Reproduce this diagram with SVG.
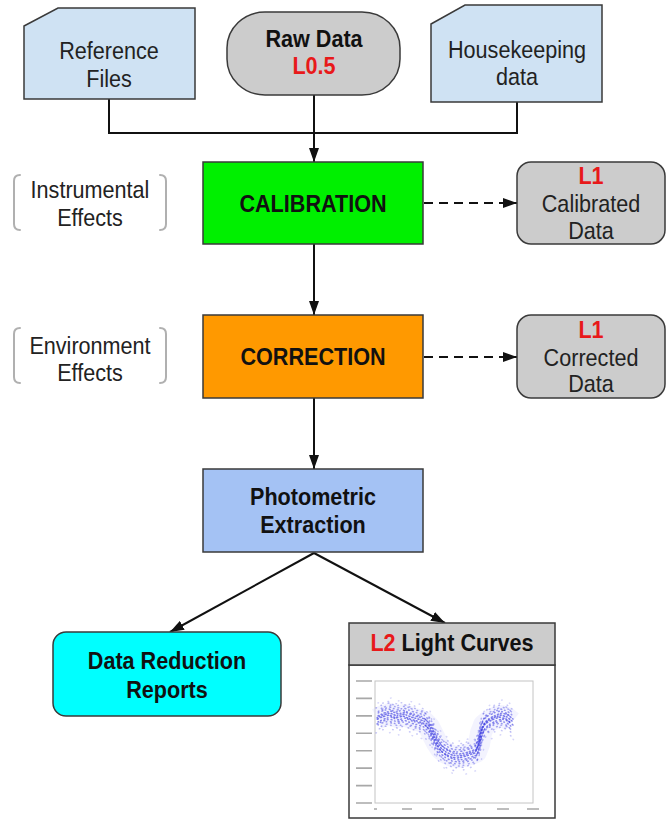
<svg xmlns="http://www.w3.org/2000/svg" width="667" height="820" viewBox="0 0 667 820">
<style>
text{font-family:"Liberation Sans",Arial,sans-serif;font-size:24px;fill:#222;text-anchor:middle}
.b{font-weight:bold;fill:#111}
.red{fill:#e8191a;font-weight:bold}
.box{stroke:#3a3a3a;stroke-width:1.5}
.conn{stroke:#111;stroke-width:2;fill:none}
.brk{stroke:#b0b0b0;stroke-width:2;fill:none;stroke-linecap:round}
.lbl{stroke:#a8a8a8;stroke-width:1.6}
.dot{fill:none;stroke:#3535e0;stroke-width:1.5;stroke-linecap:round}
</style>
<defs>
<marker id="ah" viewBox="0 0 14 10" refX="14" refY="5" markerWidth="14" markerHeight="10" orient="auto" markerUnits="userSpaceOnUse">
<path d="M0,0 L14,5 L0,10 Z" fill="#111"/>
</marker>
<polyline id="curve" points="377,719 383,716 390,714 397,717 404,715 411,718 418,720 424,722 429,727 433,735 437,743 441,749 446,753 452,756 458,757 464,756 470,754 476,752 479,744 481,733 484,725 489,721 495,718 501,716 507,718 512,722"/>
</defs>

<g id="connectors">
<path class="conn" d="M109,99 V133 H517 V102"/>
<path class="conn" d="M314,95 V162" marker-end="url(#ah)"/>
<path class="conn" d="M314,244 V315" marker-end="url(#ah)"/>
<path class="conn" d="M314,398 V469" marker-end="url(#ah)"/>
<path class="conn" d="M424,203 H517" stroke-dasharray="9,6" marker-end="url(#ah)"/>
<path class="conn" d="M424,357 H517" stroke-dasharray="9,6" marker-end="url(#ah)"/>
<path class="conn" d="M314,553 L170,632" marker-end="url(#ah)"/>
<path class="conn" d="M314,553 L445,623" marker-end="url(#ah)"/>
</g>

<g id="reference-files">
<path class="box" fill="#cfe2f3" d="M24,26 L58,8 L195,8 L195,99 L24,99 Z"/>
<text transform="translate(109,59) scale(0.9,1)">Reference</text>
<text transform="translate(109,87) scale(0.9,1)">Files</text>
</g>

<g id="raw-data">
<rect class="box" fill="#cccccc" x="227" y="12" width="173" height="83" rx="38" ry="36"/>
<text class="b" transform="translate(314,47) scale(0.9,1)">Raw Data</text>
<text class="red" transform="translate(314,74) scale(0.9,1)">L0.5</text>
</g>

<g id="housekeeping-data">
<path class="box" fill="#cfe2f3" d="M431,24 L465,5 L602,5 L602,102 L431,102 Z"/>
<text transform="translate(517,58) scale(0.9,1)">Housekeeping</text>
<text transform="translate(517,85) scale(0.9,1)">data</text>
</g>

<g id="instrumental-effects">
<path class="brk" d="M20,175 Q14,175 14,181 V224 Q14,230 20,230"/>
<path class="brk" d="M160,175 Q166,175 166,181 V224 Q166,230 160,230"/>
<text transform="translate(90,198) scale(0.9,1)">Instrumental</text>
<text transform="translate(90,226) scale(0.9,1)">Effects</text>
</g>

<g id="calibration">
<rect class="box" fill="#00f000" x="203" y="162" width="220" height="82"/>
<text class="b" transform="translate(313,212) scale(0.9,1)">CALIBRATION</text>
</g>

<g id="l1-calibrated">
<rect class="box" fill="#cccccc" x="517" y="162" width="148" height="82" rx="14"/>
<text class="red" transform="translate(591,184) scale(0.9,1)">L1</text>
<text transform="translate(591,212) scale(0.9,1)">Calibrated</text>
<text transform="translate(591,239) scale(0.9,1)">Data</text>
</g>

<g id="environment-effects">
<path class="brk" d="M20,328 Q14,328 14,334 V377 Q14,383 20,383"/>
<path class="brk" d="M160,328 Q166,328 166,334 V377 Q166,383 160,383"/>
<text transform="translate(90,354) scale(0.9,1)">Environment</text>
<text transform="translate(90,381) scale(0.9,1)">Effects</text>
</g>

<g id="correction">
<rect class="box" fill="#ff9900" x="203" y="315" width="220" height="83"/>
<text class="b" transform="translate(313,365) scale(0.9,1)">CORRECTION</text>
</g>

<g id="l1-corrected">
<rect class="box" fill="#cccccc" x="517" y="315" width="148" height="83" rx="14"/>
<text class="red" transform="translate(591,338) scale(0.9,1)">L1</text>
<text transform="translate(591,366) scale(0.9,1)">Corrected</text>
<text transform="translate(591,392) scale(0.9,1)">Data</text>
</g>

<g id="photometric-extraction">
<rect class="box" fill="#a4c2f4" x="203" y="469" width="220" height="83"/>
<text class="b" transform="translate(313,505) scale(0.9,1)">Photometric</text>
<text class="b" transform="translate(313,533) scale(0.9,1)">Extraction</text>
</g>

<g id="data-reduction-reports">
<rect class="box" fill="#00ffff" x="53" y="632" width="228" height="84" rx="13"/>
<text class="b" transform="translate(167,669) scale(0.9,1)">Data Reduction</text>
<text class="b" transform="translate(167,698) scale(0.9,1)">Reports</text>
</g>

<g id="l2-light-curves">
<rect class="box" fill="#ffffff" x="349" y="665" width="206" height="153"/>
<rect class="box" fill="#cccccc" x="349" y="623" width="206" height="42"/>
<text class="b" transform="translate(452,651) scale(0.9,1)"><tspan class="red">L2</tspan> Light Curves</text>
<g id="light-curve-plot">
<rect x="375" y="681" width="158" height="122" fill="none" stroke="#c4c4c4" stroke-width="1"/>
<g class="lbl">
<path d="M356,681 H372 M356,698.4 H372 M356,715.9 H372 M356,733.3 H372 M356,750.7 H372 M356,768.1 H372 M356,785.6 H372 M356,803 H372"/>
<path d="M374,809 H377 M402,809 H412 M432,809 H444 M464,809 H476 M497,809 H509 M527,809 H539"/>
</g>
<use href="#curve" fill="none" stroke="#dcdcfb" stroke-width="22" stroke-linejoin="round" stroke-linecap="butt" opacity="0.35"/>
<g class="dot">
<use href="#curve" transform="translate(1,-16)" stroke-dasharray="0.5,13,0.5,8" opacity="0.2"/>
<use href="#curve" transform="translate(0,-13)" stroke-dasharray="0.5,8,0.5,5" stroke-dashoffset="2" opacity="0.28"/>
<use href="#curve" transform="translate(-1,-11)" stroke-dasharray="0.6,5,0.5,7,0.8,4" opacity="0.34"/>
<use href="#curve" transform="translate(1,-9)" stroke-dasharray="0.7,4,0.5,3,1,5" stroke-dashoffset="1" opacity="0.4"/>
<use href="#curve" transform="translate(0,-7)" stroke-dasharray="1,3,0.6,3.5" stroke-dashoffset="2.5" opacity="0.48"/>
<use href="#curve" transform="translate(-1,-5)" stroke-dasharray="1,2.5,0.6,3.5" stroke-dashoffset="1" opacity="0.55"/>
<use href="#curve" transform="translate(1,-3)" stroke-dasharray="1.2,2.2,0.8,2.6" opacity="0.6"/>
<use href="#curve" transform="translate(0,-1)" stroke-dasharray="1.3,2,0.7,2.4,1,2.1" stroke-dashoffset="0.7" opacity="0.65"/>
<use href="#curve" transform="translate(-1,1)" stroke-dasharray="1,2,1.2,2.7" stroke-dashoffset="1.5" opacity="0.65"/>
<use href="#curve" transform="translate(1,3)" stroke-dasharray="0.9,2.4,0.6,3.3" stroke-dashoffset="0.3" opacity="0.6"/>
<use href="#curve" transform="translate(0,5)" stroke-dasharray="0.9,2.8,0.6,3.3" opacity="0.55"/>
<use href="#curve" transform="translate(-1,7)" stroke-dasharray="0.8,3.5,0.5,4" stroke-dashoffset="2" opacity="0.48"/>
<use href="#curve" transform="translate(1,9)" stroke-dasharray="0.7,4,0.5,5" stroke-dashoffset="1" opacity="0.4"/>
<use href="#curve" transform="translate(0,11)" stroke-dasharray="0.6,5,0.5,6" stroke-dashoffset="3" opacity="0.34"/>
<use href="#curve" transform="translate(-1,14)" stroke-dasharray="0.5,7,0.5,10" opacity="0.27"/>
<use href="#curve" transform="translate(2,18)" stroke-dasharray="0.5,14,0.5,9" stroke-dashoffset="3" opacity="0.2"/>
</g>
</g>
</g>
</svg>
